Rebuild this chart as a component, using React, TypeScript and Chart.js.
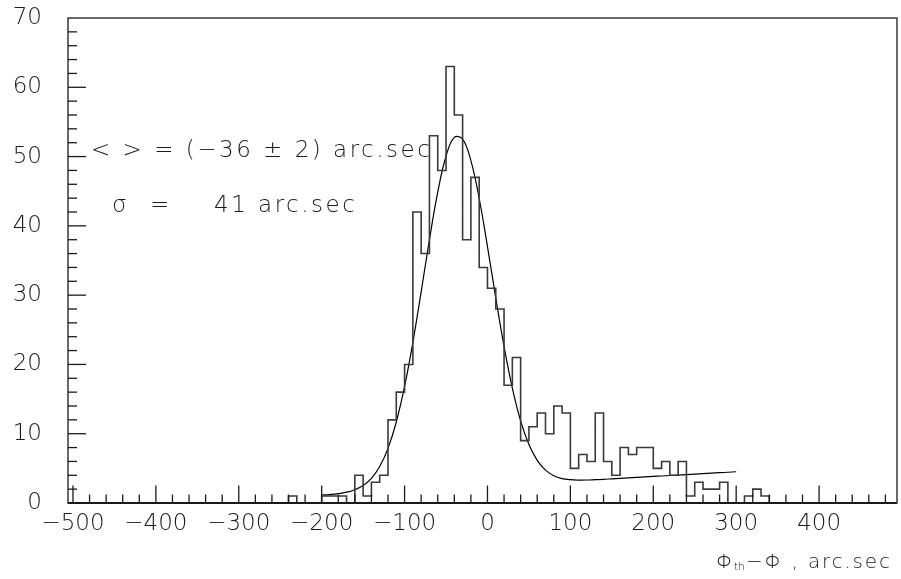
import { useEffect, useRef } from 'react';
import { Chart, registerables } from 'chart.js';

Chart.register(...registerables);

// Axis ranges and labelled ticks
const X_MIN = -506;
const X_MAX = 494;
const Y_MIN = 0;
const Y_MAX = 70;
const xTickValues = [-500, -400, -300, -200, -100, 0, 100, 200, 300, 400];
const yTickValues = [0, 10, 20, 30, 40, 50, 60, 70];

// Histogram: counts per 10 arc.sec bin, first bin starts at -240
const binStart = -240;
const binWidth = 10;
const counts = [
  1, 0, 0, 0, 1, 1, 1, 0, 4, 1,
  3, 4, 12, 16, 20, 42, 36, 53, 48, 63,
  56, 38, 47, 34, 31, 28, 17, 21, 9, 11,
  13, 10, 14, 13, 5, 7, 6, 13, 6, 4,
  8, 7, 8, 8, 5, 6, 4, 6, 1, 3,
  2, 2, 3, 0, 0, 1, 2, 1,
];

// Fitted curve (gaussian on a sloping background), sampled every 10 arc.sec
const fitX = [
  -200, -190, -180, -170, -160, -150, -140, -130, -120, -110,
  -100, -90, -80, -70, -60, -50, -40, -30, -20, -10,
  0, 10, 20, 30, 40, 50, 60, 70, 80, 90,
  100, 110, 120, 130, 140, 150, 160, 170, 180, 190,
  200, 210, 220, 230, 240, 250, 260, 270, 280, 290, 300,
];
const fitY = [
  1.13, 1.22, 1.35, 1.56, 1.91, 2.51, 3.56, 5.26, 7.88, 11.69,
  16.82, 23.19, 30.48, 38.01, 44.87, 50.05, 52.76, 52.53, 49.41, 43.95,
  37.01, 29.61, 22.6, 16.58, 11.85, 8.44, 6.16, 4.75, 3.94, 3.53,
  3.36, 3.31, 3.32, 3.37, 3.42, 3.49, 3.56, 3.63, 3.69, 3.76,
  3.83, 3.9, 3.97, 4.03, 4.1, 4.17, 4.24, 4.31, 4.37, 4.44, 4.51,
];

const meanLabel = '< > = (−36 ± 2) arc.sec';
const sigmaSymbol = 'σ';
const sigmaEquals = '=';
const sigmaValue = '41 arc.sec';
const axisTitleMain = 'Φ';
const axisTitleSub = 'th';
const axisTitleRest = '−Φ , arc.sec';

const FONT = '"DejaVu Sans", "Liberation Sans", sans-serif';
const INK = '#1a1a1a';

function histogramPoints() {
  const pts: { x: number; y: number }[] = [{ x: X_MIN, y: 0 }, { x: binStart, y: 0 }];
  counts.forEach((c, i) => pts.push({ x: binStart + i * binWidth, y: c }));
  const end = binStart + counts.length * binWidth;
  pts.push({ x: end, y: 0 });
  pts.push({ x: X_MAX, y: 0 });
  return pts;
}

const framePlugin = {
  id: 'frameAndTicks',
  afterDatasetsDraw(chart: any) {
    const { ctx, chartArea: a, scales } = chart;
    const xs = scales.x;
    const ys = scales.y;
    const seg = (x1: number, y1: number, x2: number, y2: number) => {
      ctx.beginPath();
      ctx.moveTo(x1, y1);
      ctx.lineTo(x2, y2);
      ctx.stroke();
    };
    ctx.save();
    ctx.strokeStyle = INK;
    ctx.lineWidth = 1.3;
    ctx.strokeRect(a.left, a.top, a.right - a.left, a.bottom - a.top);
    ctx.lineWidth = 2.2;
    seg(a.left, a.bottom, a.right, a.bottom);
    ctx.lineWidth = 1.3;
    // x ticks point up into the frame: major every 100, minor every 20
    for (let v = -500; v <= 480; v += 20) {
      const px = xs.getPixelForValue(v);
      const len = v % 100 === 0 ? 17.5 : 8.5;
      seg(px, a.bottom, px, a.bottom - len);
    }
    // y ticks point right into the frame: major every 10, minor every 2
    for (let v = 0; v < 70; v += 2) {
      const py = ys.getPixelForValue(v);
      const len = v % 10 === 0 ? 18 : 9;
      seg(a.left, py, a.left + len, py);
    }
    ctx.restore();
  },
};

const textPlugin = {
  id: 'annotations',
  afterDraw(chart: any) {
    const { ctx } = chart;
    ctx.save();
    ctx.fillStyle = INK;
    ctx.textAlign = 'left';
    ctx.textBaseline = 'alphabetic';
    ctx.font = `200 23px ${FONT}`;
    (ctx as any).letterSpacing = '2.5px';
    ctx.fillText(meanLabel, 91, 156.5);
    ctx.fillText(sigmaSymbol, 112, 211.5);
    ctx.fillText(sigmaEquals, 150, 211.5);
    ctx.fillText(sigmaValue, 214, 211.5);

    // axis title with subscript
    let x = 716;
    const base = 568;
    ctx.font = `200 20px ${FONT}`;
    (ctx as any).letterSpacing = '0px';
    ctx.fillText(axisTitleMain, x, base);
    x += ctx.measureText(axisTitleMain).width;
    ctx.font = `200 11px ${FONT}`;
    ctx.fillText(axisTitleSub, x + 0.5, base + 2);
    x += ctx.measureText(axisTitleSub).width + 1.5;
    ctx.font = `200 20px ${FONT}`;
    (ctx as any).letterSpacing = '1.8px';
    ctx.fillText(axisTitleRest, x, base);
    ctx.restore();
  },
};

export default function App() {
  const canvasRef = useRef<HTMLCanvasElement | null>(null);

  useEffect(() => {
    document.body.style.margin = '0';
    document.body.style.overflow = 'hidden';
    const canvas = canvasRef.current;
    if (!canvas) return;
    const tickFont = { family: FONT, size: 23, weight: '200' };
    const chart = new Chart(canvas, {
      type: 'line',
      data: {
        datasets: [
          {
            label: 'counts',
            data: histogramPoints(),
            stepped: 'before',
            borderColor: '#3a3a3a',
            borderWidth: 1.6,
            pointRadius: 0,
            fill: false,
          },
          {
            label: 'fit',
            data: fitX.map((x, i) => ({ x, y: fitY[i] })),
            borderColor: '#000',
            borderWidth: 1.2,
            pointRadius: 0,
            tension: 0.4,
            fill: false,
          },
        ],
      },
      options: {
        responsive: false,
        animation: false,
        events: [],
        layout: { padding: { top: 18, right: 4, left: 0, bottom: 0 } },
        plugins: {
          legend: { display: false },
          tooltip: { enabled: false },
          title: { display: false },
        },
        scales: {
          x: {
            type: 'linear',
            min: X_MIN,
            max: X_MAX,
            grid: { display: false, drawTicks: false },
            border: { display: false },
            afterBuildTicks: (s: any) => {
              s.ticks = xTickValues.map((value) => ({ value }));
            },
            afterFit: (s: any) => {
              s.height = 76;
            },
            ticks: {
              padding: 7,
              font: tickFont,
              color: INK,
              maxRotation: 0,
              autoSkip: false,
              callback: (v: any) => String(v).replace('-', '−'),
            },
          },
          y: {
            type: 'linear',
            min: Y_MIN,
            max: Y_MAX,
            grid: { display: false, drawTicks: false },
            border: { display: false },
            afterBuildTicks: (s: any) => {
              s.ticks = yTickValues.map((value) => ({ value }));
            },
            afterFit: (s: any) => {
              s.width = 68;
              s.paddingTop = 14;
              s.paddingBottom = 14;
            },
            ticks: {
              padding: 26,
              font: tickFont,
              color: INK,
              autoSkip: false,
            },
          },
        },
      },
      plugins: [framePlugin, textPlugin],
    } as any);
    return () => chart.destroy();
  }, []);

  return (
    <div style={{ width: 901, height: 579, background: '#fff' }}>
      <canvas ref={canvasRef} width={901} height={579} />
    </div>
  );
}
